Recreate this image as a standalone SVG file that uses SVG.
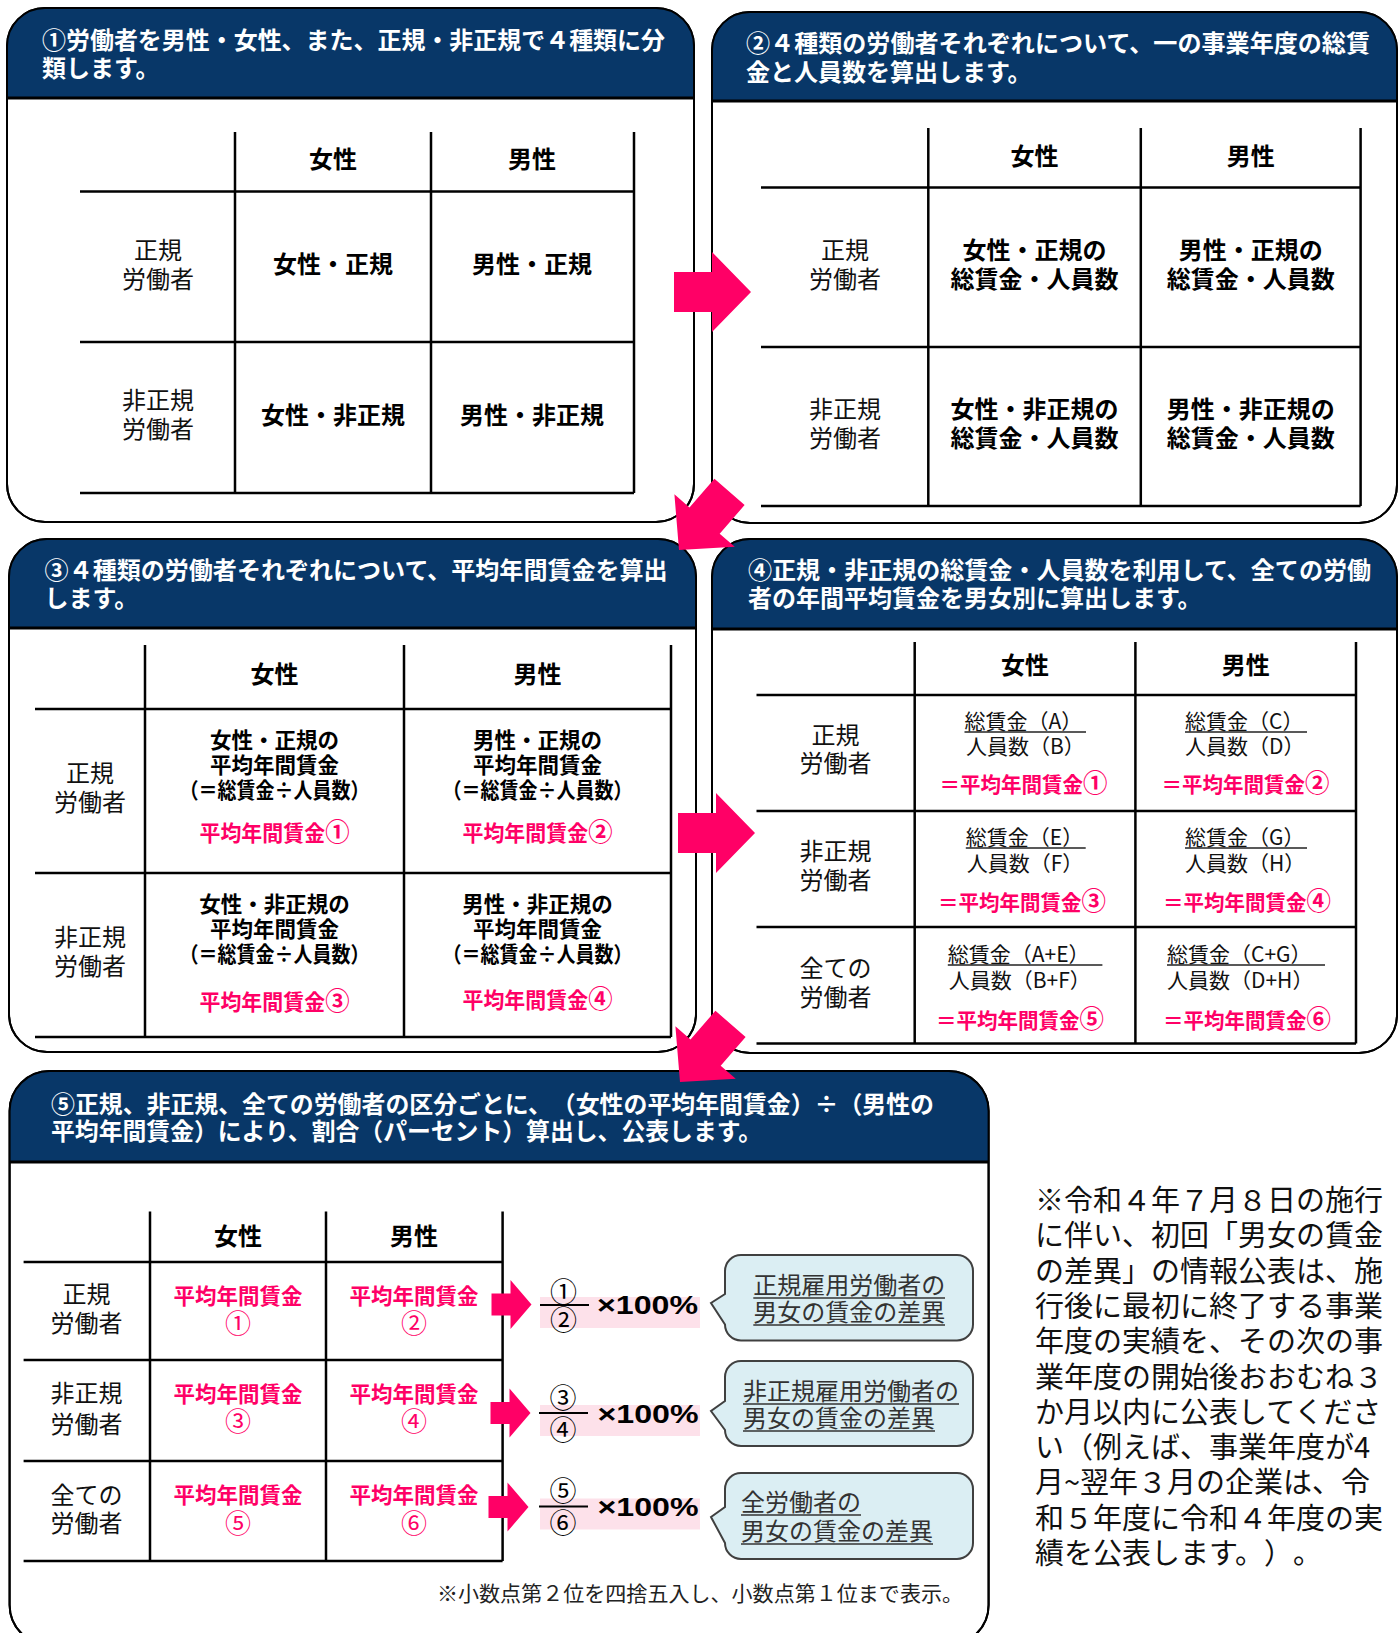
<svg xmlns="http://www.w3.org/2000/svg" width="1399" height="1633" viewBox="0 0 1399 1633">
<defs>
<style>
text{font-family:"Noto Sans CJK JP","Noto Sans CJK SC",sans-serif;text-spacing-trim:space-all}
.pnl{fill:#fff;stroke:#000;stroke-width:2}
.hdr{fill:#083768}
.hb{stroke:#000;stroke-width:3}
.tl{stroke:#000;stroke-width:2.5;fill:none}
.ht{font-weight:700;font-size:24px;fill:#fff}
.cb{font-weight:700;font-size:24px;fill:#000;text-anchor:middle}
.cr{font-weight:400;font-size:24px;fill:#111;text-anchor:middle}
.c3{font-weight:700;font-size:21.5px;fill:#000;text-anchor:middle}
.pk{fill:#FF0066}
.big{font-size:25px}
.fr{font-weight:400;font-size:21px;fill:#111}
.ul{stroke:#222;stroke-width:1.5}
.arr{fill:#FF0066}
.fb{fill:#FDE1EA}
.cn{font-weight:400;font-size:27px;fill:#000;text-anchor:middle}
.cc{font-weight:400;font-size:26px;fill:#FF0066;text-anchor:middle}
.pct{font-family:"Liberation Sans",Arial,sans-serif;font-weight:700;font-size:26px;fill:#000}
.co{fill:#DBEEF3;stroke:#404040;stroke-width:2}
.ct{font-weight:400;font-size:24px;fill:#333}
.cu{stroke:#333;stroke-width:1.5}
.note{font-weight:400;font-size:29px;fill:#111}
.foot{font-weight:400;font-size:21px;fill:#222}
</style>
<path id="arr" d="M-77,-20 H-39 V-40 L0,0 L-39,40 V20 H-77 Z"/>
<path id="sarr" d="M-40,-11 H-21 V-24.5 L0,0 L-21,24.5 V11 H-40 Z"/>
</defs>
<rect x="0" y="0" width="1399" height="1633" fill="#fff"/>

<g id="panel1">
<rect class="pnl" x="7" y="8" width="687" height="514" rx="38"/>
<path class="hdr" d="M7,98 V46 A38,38 0 0 1 45,8 H656 A38,38 0 0 1 694,46 V98 Z"/>
<rect x="7" y="8" width="687" height="514" rx="38" fill="none" stroke="#000" stroke-width="2"/>
<line class="hb" x1="7" y1="98" x2="694" y2="98"/>
<text class="ht" x="42" y="49" textLength="623" lengthAdjust="spacingAndGlyphs">①労働者を男性・女性、また、正規・非正規で４種類に分</text>
<text class="ht" x="42" y="77">類します。</text>
<path class="tl" d="M80,191.5 H634 M80,342 H634 M80,493 H634 M235,132 V493 M431,132 V493 M634,132 V493"/>
<text class="cb" x="333" y="168">女性</text>
<text class="cb" x="532" y="168">男性</text>
<text class="cr" x="158" y="259">正規</text>
<text class="cr" x="158" y="288">労働者</text>
<text class="cr" x="158" y="409">非正規</text>
<text class="cr" x="158" y="438">労働者</text>
<text class="cb" x="333" y="273">女性・正規</text>
<text class="cb" x="532" y="273">男性・正規</text>
<text class="cb" x="333" y="424">女性・非正規</text>
<text class="cb" x="532" y="424">男性・非正規</text>
</g>

<g id="panel2">
<rect class="pnl" x="712" y="12" width="685" height="511" rx="38"/>
<path class="hdr" d="M712,101 V50 A38,38 0 0 1 750,12 H1359 A38,38 0 0 1 1397,50 V101 Z"/>
<rect x="712" y="12" width="685" height="511" rx="38" fill="none" stroke="#000" stroke-width="2"/>
<line class="hb" x1="712" y1="101" x2="1397" y2="101"/>
<text class="ht" x="746" y="52" textLength="624" lengthAdjust="spacingAndGlyphs">②４種類の労働者それぞれについて、一の事業年度の総賃</text>
<text class="ht" x="746" y="81">金と人員数を算出します。</text>
<path class="tl" d="M761,187.6 H1360.6 M761,347 H1360.6 M761,506 H1360.6 M928.3,128 V506 M1140.8,128 V506 M1360.6,128 V506"/>
<text class="cb" x="1034.5" y="164.5">女性</text>
<text class="cb" x="1250.7" y="164.5">男性</text>
<text class="cr" x="845" y="259">正規</text>
<text class="cr" x="845" y="288">労働者</text>
<text class="cr" x="845" y="418">非正規</text>
<text class="cr" x="845" y="447">労働者</text>
<text class="cb" x="1034.5" y="259">女性・正規の</text>
<text class="cb" x="1034.5" y="288">総賃金・人員数</text>
<text class="cb" x="1250.7" y="259">男性・正規の</text>
<text class="cb" x="1250.7" y="288">総賃金・人員数</text>
<text class="cb" x="1034.5" y="418">女性・非正規の</text>
<text class="cb" x="1034.5" y="447">総賃金・人員数</text>
<text class="cb" x="1250.7" y="418">男性・非正規の</text>
<text class="cb" x="1250.7" y="447">総賃金・人員数</text>
</g>

<g id="panel3">
<rect class="pnl" x="9" y="539" width="687" height="513" rx="38"/>
<path class="hdr" d="M9,628 V577 A38,38 0 0 1 47,539 H658 A38,38 0 0 1 696,577 V628 Z"/>
<rect x="9" y="539" width="687" height="513" rx="38" fill="none" stroke="#000" stroke-width="2"/>
<line class="hb" x1="9" y1="628" x2="696" y2="628"/>
<text class="ht" x="44.6" y="579" textLength="623" lengthAdjust="spacingAndGlyphs">③４種類の労働者それぞれについて、平均年間賃金を算出</text>
<text class="ht" x="44.6" y="607">します。</text>
<path class="tl" d="M35,709 H671 M35,873 H671 M35,1037 H671 M145,645 V1037 M404,645 V1037 M671,645 V1037"/>
<text class="cb" x="274.5" y="683">女性</text>
<text class="cb" x="537.5" y="683">男性</text>
<text class="cr" x="90" y="782">正規</text>
<text class="cr" x="90" y="811">労働者</text>
<text class="cr" x="90" y="946">非正規</text>
<text class="cr" x="90" y="975">労働者</text>
<text class="c3" x="274.5" y="748">女性・正規の</text>
<text class="c3" x="274.5" y="773">平均年間賃金</text>
<text class="c3" x="274.5" y="798" textLength="190" lengthAdjust="spacingAndGlyphs">（＝総賃金÷人員数）</text>
<text class="c3 pk" x="274.5" y="841" textLength="150" lengthAdjust="spacingAndGlyphs">平均年間賃金<tspan class="big">①</tspan></text>
<text class="c3" x="537.5" y="748">男性・正規の</text>
<text class="c3" x="537.5" y="773">平均年間賃金</text>
<text class="c3" x="537.5" y="798" textLength="190" lengthAdjust="spacingAndGlyphs">（＝総賃金÷人員数）</text>
<text class="c3 pk" x="537.5" y="841" textLength="150" lengthAdjust="spacingAndGlyphs">平均年間賃金<tspan class="big">②</tspan></text>
<text class="c3" x="274.5" y="912">女性・非正規の</text>
<text class="c3" x="274.5" y="937">平均年間賃金</text>
<text class="c3" x="274.5" y="962" textLength="190" lengthAdjust="spacingAndGlyphs">（＝総賃金÷人員数）</text>
<text class="c3 pk" x="274.5" y="1010" textLength="150" lengthAdjust="spacingAndGlyphs">平均年間賃金<tspan class="big">③</tspan></text>
<text class="c3" x="537.5" y="912">男性・非正規の</text>
<text class="c3" x="537.5" y="937">平均年間賃金</text>
<text class="c3" x="537.5" y="962" textLength="190" lengthAdjust="spacingAndGlyphs">（＝総賃金÷人員数）</text>
<text class="c3 pk" x="537.5" y="1008" textLength="150" lengthAdjust="spacingAndGlyphs">平均年間賃金<tspan class="big">④</tspan></text>
</g>

<g id="panel4">
<rect class="pnl" x="712" y="539" width="685" height="514" rx="38"/>
<path class="hdr" d="M712,629 V577 A38,38 0 0 1 750,539 H1359 A38,38 0 0 1 1397,577 V629 Z"/>
<rect x="712" y="539" width="685" height="514" rx="38" fill="none" stroke="#000" stroke-width="2"/>
<line class="hb" x1="712" y1="629" x2="1397" y2="629"/>
<text class="ht" x="748" y="579" textLength="623" lengthAdjust="spacingAndGlyphs">④正規・非正規の総賃金・人員数を利用して、全ての労働</text>
<text class="ht" x="748" y="607">者の年間平均賃金を男女別に算出します。</text>
<path class="tl" d="M756.5,695 H1356 M756.5,811 H1356 M756.5,927 H1356 M756.5,1043.5 H1356 M914.7,642 V1043.5 M1135.4,642 V1043.5 M1356,642 V1043.5"/>
<text class="cb" x="1025" y="674">女性</text>
<text class="cb" x="1245.7" y="674">男性</text>
<text class="cr" x="835.6" y="743.5">正規</text>
<text class="cr" x="835.6" y="772">労働者</text>
<text class="cr" x="835.6" y="860">非正規</text>
<text class="cr" x="835.6" y="889">労働者</text>
<text class="cr" x="835.6" y="977">全ての</text>
<text class="cr" x="835.6" y="1005.5">労働者</text>
<text class="fr" x="964.5" y="728.5">総賃金（A）</text>
<line class="ul" x1="964.5" y1="732" x2="1086" y2="732"/>
<text class="fr" x="966" y="754">人員数（B）</text>
<text class="c3 pk" x="1023.5" y="792" style="font-size:21px" textLength="168" lengthAdjust="spacingAndGlyphs">＝平均年間賃金<tspan class="big">①</tspan></text>
<text class="fr" x="1185" y="728.5">総賃金（C）</text>
<line class="ul" x1="1185" y1="732" x2="1307" y2="732"/>
<text class="fr" x="1185" y="754">人員数（D）</text>
<text class="c3 pk" x="1245.5" y="792" style="font-size:21px" textLength="168" lengthAdjust="spacingAndGlyphs">＝平均年間賃金<tspan class="big">②</tspan></text>
<text class="fr" x="965.8" y="845">総賃金（E）</text>
<line class="ul" x1="965.8" y1="848" x2="1085.7" y2="848"/>
<text class="fr" x="966.7" y="871">人員数（F）</text>
<text class="c3 pk" x="1022" y="910" style="font-size:21px" textLength="168" lengthAdjust="spacingAndGlyphs">＝平均年間賃金<tspan class="big">③</tspan></text>
<text class="fr" x="1185" y="845">総賃金（G）</text>
<line class="ul" x1="1185" y1="848" x2="1307" y2="848"/>
<text class="fr" x="1185" y="871">人員数（H）</text>
<text class="c3 pk" x="1247" y="910" style="font-size:21px" textLength="168" lengthAdjust="spacingAndGlyphs">＝平均年間賃金<tspan class="big">④</tspan></text>
<text class="fr" x="947.8" y="962">総賃金（A+E）</text>
<line class="ul" x1="947.8" y1="965" x2="1102.4" y2="965"/>
<text class="fr" x="948.7" y="988">人員数（B+F）</text>
<text class="c3 pk" x="1020" y="1028" style="font-size:21px" textLength="168" lengthAdjust="spacingAndGlyphs">＝平均年間賃金<tspan class="big">⑤</tspan></text>
<text class="fr" x="1167" y="962">総賃金（C+G）</text>
<line class="ul" x1="1167" y1="965" x2="1325" y2="965"/>
<text class="fr" x="1167" y="988">人員数（D+H）</text>
<text class="c3 pk" x="1247" y="1028" style="font-size:21px" textLength="168" lengthAdjust="spacingAndGlyphs">＝平均年間賃金<tspan class="big">⑥</tspan></text>
</g>

<g id="panel5">
<rect class="pnl" x="9.6" y="1071" width="979" height="574" rx="40"/>
<path class="hdr" d="M9.6,1162 V1111 A40,40 0 0 1 49.6,1071 H948.6 A40,40 0 0 1 988.6,1111 V1162 Z"/>
<rect x="9.6" y="1071" width="979" height="574" rx="40" fill="none" stroke="#000" stroke-width="2"/>
<line class="hb" x1="9.6" y1="1162" x2="988.6" y2="1162"/>
<text class="ht" x="51" y="1113" textLength="883" lengthAdjust="spacingAndGlyphs">⑤正規、非正規、全ての労働者の区分ごとに、（女性の平均年間賃金）÷（男性の</text>
<text class="ht" x="51" y="1140" textLength="711" lengthAdjust="spacingAndGlyphs">平均年間賃金）により、割合（パーセント）算出し、公表します。</text>
<path class="tl" d="M23.6,1262 H502.6 M23.6,1360 H502.6 M23.6,1461 H502.6 M23.6,1561 H502.6 M150,1211.6 V1561 M326,1211.6 V1561 M502.6,1211.6 V1561"/>
<text class="cb" x="238" y="1244.5">女性</text>
<text class="cb" x="414" y="1244.5">男性</text>
<text class="cr" x="86.5" y="1303">正規</text>
<text class="cr" x="86.5" y="1332">労働者</text>
<text class="cr" x="86.5" y="1401.5">非正規</text>
<text class="cr" x="86.5" y="1432.5">労働者</text>
<text class="cr" x="86.5" y="1504">全ての</text>
<text class="cr" x="86.5" y="1532">労働者</text>
<text class="c3 pk" x="238" y="1304">平均年間賃金</text>
<text class="cc" x="238" y="1332.5">①</text>
<text class="c3 pk" x="414" y="1304">平均年間賃金</text>
<text class="cc" x="414" y="1332.5">②</text>
<text class="c3 pk" x="238" y="1402">平均年間賃金</text>
<text class="cc" x="238" y="1431">③</text>
<text class="c3 pk" x="414" y="1402">平均年間賃金</text>
<text class="cc" x="414" y="1431">④</text>
<text class="c3 pk" x="238" y="1503">平均年間賃金</text>
<text class="cc" x="238" y="1532.5">⑤</text>
<text class="c3 pk" x="414" y="1503">平均年間賃金</text>
<text class="cc" x="414" y="1532.5">⑥</text>

<rect class="fb" x="540" y="1297" width="160" height="31"/>
<line x1="540" y1="1305" x2="589" y2="1305" stroke="#000" stroke-width="1.8"/>
<text class="cn" x="563.5" y="1301.5">①</text>
<text class="cn" x="563.5" y="1330">②</text>
<text class="pct" x="597" y="1314" textLength="101" lengthAdjust="spacingAndGlyphs">×100%</text>

<rect class="fb" x="540" y="1405" width="160" height="31"/>
<line x1="539" y1="1413" x2="588" y2="1413" stroke="#000" stroke-width="1.8"/>
<text class="cn" x="563" y="1408">③</text>
<text class="cn" x="563" y="1440">④</text>
<text class="pct" x="597.5" y="1423" textLength="101" lengthAdjust="spacingAndGlyphs">×100%</text>

<rect class="fb" x="540" y="1498.5" width="160" height="31"/>
<line x1="539" y1="1506.5" x2="588" y2="1506.5" stroke="#000" stroke-width="1.8"/>
<text class="cn" x="563" y="1501">⑤</text>
<text class="cn" x="563" y="1533">⑥</text>
<text class="pct" x="597.5" y="1516" textLength="101" lengthAdjust="spacingAndGlyphs">×100%</text>

<text class="foot" x="437" y="1601" textLength="526" lengthAdjust="spacingAndGlyphs">※小数点第２位を四捨五入し、小数点第１位まで表示。</text>
</g>

<g id="callout1">
<path class="co" d="M741,1255 H957 A16,16 0 0 1 973,1271 V1324.5 A16,16 0 0 1 957,1340.5 H741 A16,16 0 0 1 725,1324.5 L711,1303 L725,1294 V1271 A16,16 0 0 1 741,1255 Z"/>
<text class="ct" x="753.3" y="1294">正規雇用労働者の</text>
<line class="cu" x1="753.3" y1="1298" x2="945" y2="1298"/>
<text class="ct" x="753.3" y="1321">男女の賃金の差異</text>
<line class="cu" x1="753.3" y1="1325" x2="945" y2="1325"/>
</g>
<g id="callout2">
<path class="co" d="M741,1361 H957 A16,16 0 0 1 973,1377 V1430 A16,16 0 0 1 957,1446 H741 A16,16 0 0 1 725,1430 L711,1411 L725,1401 V1377 A16,16 0 0 1 741,1361 Z"/>
<text class="ct" x="743" y="1400">非正規雇用労働者の</text>
<line class="cu" x1="743" y1="1404" x2="959" y2="1404"/>
<text class="ct" x="743" y="1427">男女の賃金の差異</text>
<line class="cu" x1="743" y1="1431" x2="935" y2="1431"/>
</g>
<g id="callout3">
<path class="co" d="M741,1473 H957 A16,16 0 0 1 973,1489 V1543 A16,16 0 0 1 957,1559 H741 A16,16 0 0 1 725,1543 L711,1517 L725,1507 V1489 A16,16 0 0 1 741,1473 Z"/>
<text class="ct" x="741" y="1511">全労働者の</text>
<line class="cu" x1="741" y1="1515" x2="861" y2="1515"/>
<text class="ct" x="741" y="1540">男女の賃金の差異</text>
<line class="cu" x1="741" y1="1544" x2="933" y2="1544"/>
</g>

<g id="note">
<text class="note" x="1035" y="1211">※令和４年７月８日の施行</text>
<text class="note" x="1035" y="1246.3">に伴い、初回「男女の賃金</text>
<text class="note" x="1035" y="1281.6">の差異」の情報公表は、施</text>
<text class="note" x="1035" y="1316.9">行後に最初に終了する事業</text>
<text class="note" x="1035" y="1352.2">年度の実績を、その次の事</text>
<text class="note" x="1035" y="1387.5">業年度の開始後おおむね３</text>
<text class="note" x="1035" y="1422.8">か月以内に公表してくださ</text>
<text class="note" x="1035" y="1458.1">い（例えば、事業年度が4</text>
<text class="note" x="1035" y="1493.4">月~翌年３月の企業は、令</text>
<text class="note" x="1035" y="1528.7">和５年度に令和４年度の実</text>
<text class="note" x="1035" y="1564">績を公表します。）。</text>
</g>

<g id="connectors">
<use href="#arr" class="arr" transform="translate(751,292)"/>
<use href="#arr" class="arr" transform="translate(679,550) rotate(131)"/>
<use href="#arr" class="arr" transform="translate(755,833)"/>
<use href="#arr" class="arr" transform="translate(680,1082) rotate(131)"/>
<use href="#sarr" class="arr" transform="translate(531.5,1304.5)"/>
<use href="#sarr" class="arr" transform="translate(530.5,1413)"/>
<use href="#sarr" class="arr" transform="translate(528.5,1507)"/>
</g>
</svg>
